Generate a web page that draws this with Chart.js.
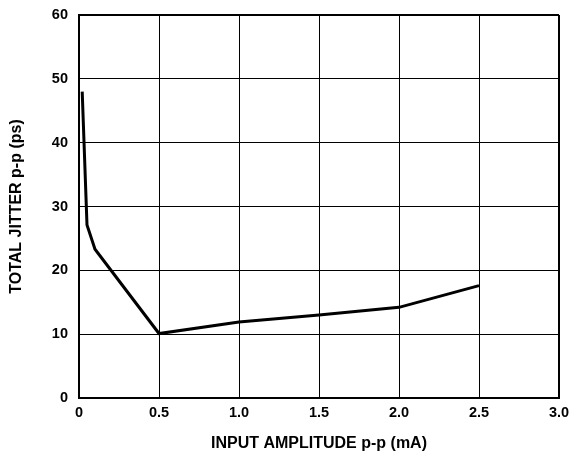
<!DOCTYPE html>
<html><head><meta charset="utf-8">
<script src="https://cdn.jsdelivr.net/npm/chart.js@4.4.0/dist/chart.umd.min.js"></script>
<style>html,body{margin:0;padding:0;background:#fff}#w{width:571px;height:457px}</style>
</head><body><div id="w"><canvas id="c"></canvas></div>
<script>
const amplitude = [0.02, 0.05, 0.1, 0.5, 1.0, 1.5, 2.0, 2.5];
const jitter = [48, 27.1, 23.3, 10.1, 11.9, 13.0, 14.2, 17.6];
const xTicks = [0, 0.5, 1.0, 1.5, 2.0, 2.5, 3.0];
const yTicks = [0, 10, 20, 30, 40, 50, 60];
const fam = "'Liberation Sans', Arial, sans-serif";
const tickFont = {family: fam, size: 14.5, weight: 'bold'};
const titleFont = {family: fam, size: 16, weight: 'bold'};
new Chart(document.getElementById('c'), {
  type: 'line',
  data: {datasets: [{data: amplitude.map((x, i) => ({x, y: jitter[i]})), borderColor: '#000', borderWidth: 3, pointRadius: 0, tension: 0, fill: false}]},
  options: {
    responsive: true, maintainAspectRatio: false, animation: false,
    layout: {padding: {top: 15, right: 12, left: 0, bottom: 0}},
    plugins: {legend: {display: false}, tooltip: {enabled: false}},
    scales: {
      x: {type: 'linear', min: 0, max: 3,
        afterBuildTicks: s => { s.ticks = xTicks.map(v => ({value: v})); },
        afterFit: s => { s.height = 59; s.paddingLeft = 0; s.paddingRight = 0; },
        ticks: {color: '#000', font: tickFont, padding: 6, maxRotation: 0, callback: v => v === 0 ? '0' : v.toFixed(1)},
        grid: {color: '#000', lineWidth: c => (c.tick && c.tick.value === 3) ? 2 : 1, drawTicks: false},
        border: {color: '#000', width: 2},
        title: {display: true, text: 'INPUT AMPLITUDE p-p (mA)', color: '#000', font: titleFont, padding: {top: 0, bottom: 4}}
      },
      y: {type: 'linear', min: 0, max: 60,
        afterBuildTicks: s => { s.ticks = yTicks.map(v => ({value: v})); },
        afterFit: s => { s.width = 79; s.paddingTop = 0; s.paddingBottom = 0; },
        ticks: {color: '#000', font: tickFont, padding: 11},
        grid: {color: '#000', lineWidth: c => (c.tick && c.tick.value === 60) ? 2 : 1, drawTicks: false},
        border: {color: '#000', width: 2},
        title: {display: true, text: 'TOTAL JITTER p-p (ps)', color: '#000', font: titleFont, padding: {top: 7, bottom: 0}}
      }
    }
  }
});
</script></body></html>
